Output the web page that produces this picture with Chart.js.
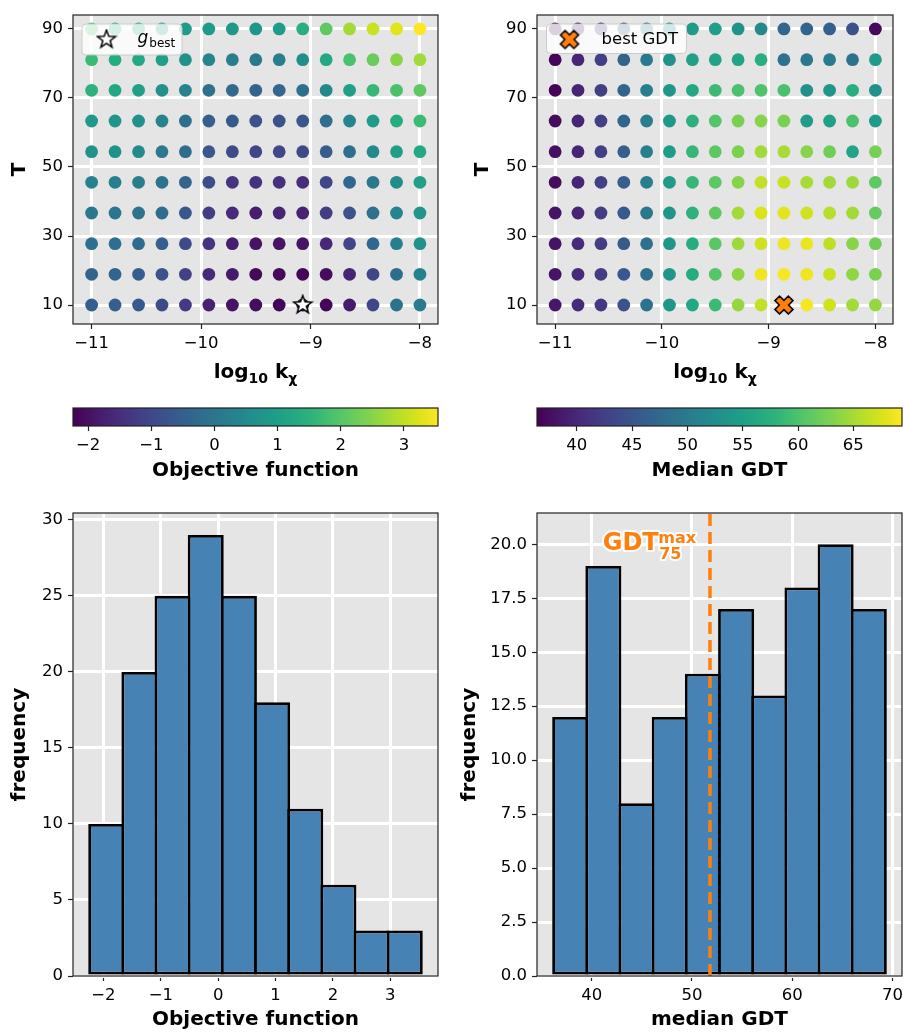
<!DOCTYPE html>
<html>
<head>
<meta charset="utf-8">
<script src="https://cdn.jsdelivr.net/npm/chart.js@4.4.1/dist/chart.umd.min.js"></script>
<style>
  body { margin: 0; background: #fff; }
  #fig { position: relative; width: 903px; height: 1032px; }
  #fig canvas { position: absolute; }
</style>
</head>
<body>
<div id="fig">
  <canvas id="scatterObj" style="left:0;top:0" width="450" height="395"></canvas>
  <canvas id="scatterGdt" style="left:455px;top:0" width="448" height="395"></canvas>
  <canvas id="cbarObj" style="left:0;top:395px" width="450" height="95"></canvas>
  <canvas id="cbarGdt" style="left:455px;top:395px" width="448" height="95"></canvas>
  <canvas id="histObj" style="left:0;top:490px" width="450" height="542"></canvas>
  <canvas id="histGdt" style="left:455px;top:490px" width="448" height="542"></canvas>
</div>
<script>
// grid of runs: log10 k_chi columns, T rows (rows listed top -> bottom)
const logK = [-11, -10.786, -10.571, -10.357, -10.143, -9.929, -9.714, -9.5, -9.286, -9.071, -8.857, -8.643, -8.429, -8.214, -8];
const temps = [90, 81.11, 72.22, 63.33, 54.44, 45.56, 36.67, 27.78, 18.89, 10];

const objective = [
  [1.92, 1.52, 1.23, 1.05, 0.94, 0.94, 0.82, 0.77, 0.94, 1.40, 2.10, 2.73, 3.08, 3.31, 3.54],
  [1.69, 1.34, 1.23, 1.00, 0.65, 0.36, 0.19, 0.07, 0.25, 0.59, 1.23, 1.86, 2.21, 2.50, 2.73],
  [1.46, 1.23, 1.05, 0.65, 0.36, -0.10, -0.27, -0.39, -0.33, -0.16, 0.48, 1.05, 1.63, 1.86, 2.10],
  [0.88, 0.77, 0.65, 0.36, -0.16, -0.51, -0.62, -0.80, -0.74, -0.68, -0.16, 0.36, 0.94, 1.34, 1.69],
  [0.65, 0.65, 0.48, 0.13, -0.22, -0.68, -0.91, -1.03, -1.03, -0.91, -0.56, -0.16, 0.48, 1.00, 1.23],
  [0.30, 0.30, 0.25, -0.04, -0.39, -0.85, -1.37, -1.43, -1.43, -1.49, -1.03, -0.33, 0.07, 0.53, 1.05],
  [0.07, 0.01, -0.04, -0.22, -0.68, -1.20, -1.55, -1.78, -1.66, -1.72, -1.20, -0.80, -0.10, 0.36, 0.77],
  [-0.16, -0.16, -0.27, -0.51, -0.97, -1.37, -1.78, -1.95, -1.95, -1.95, -1.60, -1.08, -0.33, 0.25, 0.65],
  [-0.39, -0.39, -0.56, -0.80, -1.14, -1.55, -1.84, -2.12, -2.12, -2.18, -2.07, -1.66, -1.03, -0.22, 0.30],
  [-0.51, -0.51, -0.62, -0.91, -1.26, -1.72, -1.95, -2.07, -2.18, -2.24, -2.18, -1.84, -1.03, -0.10, 0.13]
];

const medianGdt = [
  [38.1, 39.0, 41.4, 46.3, 49.6, 52.5, 54.6, 54.9, 52.9, 51.9, 47.3, 47.0, 46.3, 44.7, 37.1],
  [36.7, 39.7, 42.5, 47.0, 49.9, 52.9, 55.2, 55.5, 55.5, 57.2, 48.6, 49.6, 49.9, 48.6, 54.6],
  [36.7, 39.7, 42.5, 47.0, 50.6, 53.6, 56.2, 58.9, 59.8, 60.2, 59.8, 52.9, 53.6, 57.2, 52.9],
  [37.4, 39.7, 42.5, 47.0, 50.6, 53.9, 57.5, 60.5, 62.8, 63.5, 62.8, 54.6, 55.2, 59.8, 54.6],
  [37.7, 39.7, 42.5, 46.3, 50.6, 54.6, 58.5, 61.0, 62.8, 64.8, 65.1, 63.5, 62.1, 55.5, 62.5],
  [37.4, 39.7, 42.5, 46.0, 50.6, 54.6, 58.5, 61.0, 63.5, 66.4, 66.8, 65.1, 64.8, 64.5, 61.2],
  [38.1, 39.7, 42.3, 45.6, 49.6, 53.6, 57.9, 61.2, 64.8, 67.8, 68.1, 67.1, 65.8, 64.8, 61.5],
  [38.1, 40.4, 42.3, 45.6, 48.6, 53.6, 56.9, 60.8, 64.5, 67.1, 68.7, 68.4, 66.1, 63.5, 62.1],
  [38.1, 40.4, 42.3, 45.3, 48.3, 53.6, 56.9, 60.5, 63.8, 68.7, 69.1, 68.7, 66.8, 63.8, 62.8],
  [38.4, 40.4, 42.0, 44.7, 48.6, 53.6, 56.2, 58.9, 64.1, 66.4, 69.4, 69.1, 67.1, 64.8, 64.1]
];

const objRange = [-2.24, 3.54];
const gdtRange = [36.4, 69.4];
const bestObj = { x: -9.071, y: 10 };
const bestGdt = { x: -8.857, y: 10 };

// histograms
const objEdges = [-2.24, -1.662, -1.084, -0.506, 0.072, 0.65, 1.228, 1.806, 2.384, 2.962, 3.54];
const objCounts = [10, 20, 25, 29, 25, 18, 11, 6, 3, 3];
const gdtEdges = [36.2, 39.51, 42.82, 46.13, 49.44, 52.75, 56.06, 59.37, 62.68, 65.99, 69.3];
const gdtCounts = [12, 19, 8, 12, 14, 17, 13, 18, 20, 17];
const gdtMax75 = 51.8;

// tick labels
const logKTicks = [-11, -10, -9, -8];
const tempTicks = [10, 30, 50, 70, 90];
const objTicks = [-2, -1, 0, 1, 2, 3];
const gdtCbarTicks = [40, 45, 50, 55, 60, 65];
const objFreqTicks = [0, 5, 10, 15, 20, 25, 30];
const gdtHistTicks = [40, 50, 60, 70];
const gdtFreqTicks = [0, 2.5, 5, 7.5, 10, 12.5, 15, 17.5, 20];

const FONT = "'DejaVu Sans', sans-serif";
Chart.defaults.font.family = FONT;
Chart.defaults.color = '#000';

const VIRIDIS = ['#440154', '#471365', '#482475', '#463480', '#414487', '#3b528b', '#355f8d',
  '#2f6c8e', '#2a788e', '#25848e', '#21918c', '#1e9c89', '#22a884', '#2db27d', '#44bf70',
  '#5ec962', '#7ad151', '#9bd93c', '#bddf26', '#dce319', '#fde725'];

function hexRgb(h) {
  return [parseInt(h.slice(1, 3), 16), parseInt(h.slice(3, 5), 16), parseInt(h.slice(5, 7), 16)];
}
function viridis(t) {
  t = Math.min(1, Math.max(0, t));
  const f = t * (VIRIDIS.length - 1);
  const i = Math.min(Math.floor(f), VIRIDIS.length - 2);
  const u = f - i;
  const a = hexRgb(VIRIDIS[i]), b = hexRgb(VIRIDIS[i + 1]);
  return 'rgb(' + a.map((c, k) => Math.round(c + (b[k] - c) * u)).join(',') + ')';
}

const minus = v => (v < 0 ? '\u2212' + Math.abs(v) : String(v));

// marker images
function starMarker() {
  const c = document.createElement('canvas');
  c.width = c.height = 22;
  const g = c.getContext('2d');
  g.beginPath();
  for (let i = 0; i < 10; i++) {
    const r = i % 2 ? 3.9 : 9.5;
    const a = -Math.PI / 2 + i * Math.PI / 5;
    g.lineTo(11 + r * Math.cos(a), 11 + r * Math.sin(a));
  }
  g.closePath();
  g.fillStyle = '#fff';
  g.fill();
  g.lineWidth = 1.5;
  g.strokeStyle = '#000';
  g.stroke();
  return c;
}
function crossMarker() {
  const c = document.createElement('canvas');
  c.width = c.height = 22;
  const g = c.getContext('2d');
  g.translate(11, 11);
  g.rotate(Math.PI / 4);
  const r = 9.5, w = 3.3;
  const pts = [[-w, -r], [w, -r], [w, -w], [r, -w], [r, w], [w, w], [w, r], [-w, r], [-w, w], [-r, w], [-r, -w], [-w, -w]];
  g.beginPath();
  pts.forEach(p => g.lineTo(p[0], p[1]));
  g.closePath();
  g.fillStyle = '#ff7f0e';
  g.fill();
  g.lineWidth = 1.5;
  g.strokeStyle = '#000';
  g.stroke();
  return c;
}
const starImg = starMarker();
const crossImg = crossMarker();

function roundRect(ctx, x, y, w, h, r) {
  ctx.beginPath();
  ctx.moveTo(x + r, y);
  ctx.arcTo(x + w, y, x + w, y + h, r);
  ctx.arcTo(x + w, y + h, x, y + h, r);
  ctx.arcTo(x, y + h, x, y, r);
  ctx.arcTo(x, y, x + w, y, r);
  ctx.closePath();
}

function drawRich(ctx, parts, cx, y) {
  let w = 0;
  parts.forEach(p => { ctx.font = p.font; w += ctx.measureText(p.text).width; });
  let x = cx - w / 2;
  parts.forEach(p => {
    ctx.font = p.font;
    ctx.fillText(p.text, x, y + (p.dy || 0));
    x += ctx.measureText(p.text).width;
  });
}

// grey panel + dark frame, ggplot look
const panel = {
  id: 'panel',
  beforeDraw(chart) {
    const { ctx, chartArea: a } = chart;
    ctx.save();
    ctx.fillStyle = '#e5e5e5';
    ctx.fillRect(a.left, a.top, a.width, a.height);
    ctx.restore();
  },
  afterDraw(chart) {
    const { ctx, chartArea: a } = chart;
    ctx.save();
    ctx.strokeStyle = '#222';
    ctx.lineWidth = 1.2;
    ctx.strokeRect(a.left, a.top, a.width, a.height);
    ctx.restore();
  }
};

function axis(ticks, min, max, fmt, fit, extra) {
  return Object.assign({
    type: 'linear',
    min, max,
    offset: false,
    afterBuildTicks: s => { s.ticks = ticks.map(v => ({ value: v })); },
    afterFit: fit,
    ticks: { callback: fmt, color: '#000', font: { size: 16.5 }, padding: 5, maxRotation: 0, autoSkip: false },
    grid: { color: '#fff', lineWidth: 3, tickColor: '#222', tickLength: 5, tickWidth: 1.2, offset: false },
    border: { display: false }
  }, extra || {});
}
const fixW = w => s => { s.width = w; s.paddingTop = 0; s.paddingBottom = 0; };
const fixH = h => s => { s.height = h; s.paddingLeft = 0; s.paddingRight = 0; };

function scatterChart(id, grid, range, best, img, yAxisW, padRight, yTitlePad, legend) {
  const pts = [];
  temps.forEach((t, r) => logK.forEach((k, c) => pts.push({ x: k, y: t, v: grid[r][c] })));

  const labelPlugin = {
    id: 'xlabel',
    afterDraw(chart) {
      const { ctx, chartArea: a } = chart;
      ctx.save();
      ctx.fillStyle = '#000';
      ctx.textBaseline = 'alphabetic';
      drawRich(ctx, [
        { text: 'log', font: 'bold 20px ' + FONT },
        { text: '10', font: 'bold 14px ' + FONT, dy: 5 },
        { text: ' k', font: 'bold 20px ' + FONT },
        { text: '\u03c7', font: 'bold 14px ' + FONT, dy: 5 }
      ], (a.left + a.right) / 2, 378);
      ctx.restore();
    }
  };

  const legendPlugin = {
    id: 'boxLegend',
    afterDatasetsDraw(chart) {
      const ctx = chart.ctx;
      ctx.save();
      roundRect(ctx, legend.x, legend.y, legend.w, legend.h, 4);
      ctx.fillStyle = 'rgba(255,255,255,0.8)';
      ctx.fill();
      ctx.strokeStyle = 'rgba(200,200,200,0.9)';
      ctx.lineWidth = 1;
      ctx.stroke();
      ctx.drawImage(img, legend.mx - img.width / 2, legend.my - img.height / 2);
      ctx.fillStyle = '#000';
      ctx.textBaseline = 'alphabetic';
      let x = legend.tx;
      legend.parts.forEach(p => {
        ctx.font = p.font;
        ctx.fillText(p.text, x, p.y);
        x += ctx.measureText(p.text).width + 1;
      });
      ctx.restore();
    }
  };

  return new Chart(document.getElementById(id), {
    type: 'scatter',
    data: {
      datasets: [
        {
          data: pts,
          pointRadius: 6.4,
          pointBorderWidth: 0,
          pointBackgroundColor: c => viridis((c.raw.v - range[0]) / (range[1] - range[0])),
          order: 1
        },
        {
          data: [best],
          pointStyle: img,
          pointRadius: 9,
          order: 0
        }
      ]
    },
    options: {
      responsive: false,
      animation: false,
      devicePixelRatio: 1,
      events: [],
      layout: { padding: { top: 15, right: padRight, left: 0, bottom: 0 } },
      plugins: { legend: { display: false }, tooltip: { enabled: false } },
      scales: {
        x: axis(logKTicks, -11.17, -7.835, minus, fixH(71)),
        y: axis(tempTicks, 4.5, 94.05, v => String(v), fixW(yAxisW), {
          title: { display: true, text: 'T', font: { size: 20, weight: 'bold' }, padding: { top: yTitlePad, bottom: 0 } }
        })
      }
    },
    plugins: [panel, labelPlugin, legendPlugin]
  });
}
scatterChart('scatterObj', objective, objRange, bestObj, starImg, 73, 12, 8, {
  x: 82, y: 24, w: 100, h: 31, mx: 106.5, my: 39.5, tx: 137.5,
  parts: [
    { text: 'g', font: 'italic 17px ' + FONT, y: 43 },
    { text: 'best', font: '12px ' + FONT, y: 46.5 }
  ]
});
scatterChart('scatterGdt', medianGdt, gdtRange, bestGdt, crossImg, 82, 1, 16, {
  x: 91.5, y: 24, w: 140, h: 29.5, mx: 114.5, my: 39.5, tx: 146.5,
  parts: [{ text: 'best GDT', font: '16.5px ' + FONT, y: 44 }]
});

function colorbar(id, range, ticks, title, padLeft, padRight) {
  const bar = {
    id: 'gradient',
    beforeDraw(chart) {
      const { ctx, chartArea: a } = chart;
      const g = ctx.createLinearGradient(a.left, 0, a.right, 0);
      VIRIDIS.forEach((c, i) => g.addColorStop(i / (VIRIDIS.length - 1), c));
      ctx.save();
      ctx.fillStyle = g;
      ctx.fillRect(a.left, a.top, a.width, a.height);
      ctx.restore();
    },
    afterDraw(chart) {
      const { ctx, chartArea: a } = chart;
      ctx.save();
      ctx.strokeStyle = '#222';
      ctx.lineWidth = 1.2;
      ctx.strokeRect(a.left, a.top, a.width, a.height);
      ctx.restore();
    }
  };
  return new Chart(document.getElementById(id), {
    type: 'scatter',
    data: { datasets: [] },
    options: {
      responsive: false,
      animation: false,
      devicePixelRatio: 1,
      events: [],
      layout: { padding: { top: 13, left: padLeft, right: padRight, bottom: 0 } },
      plugins: { legend: { display: false }, tooltip: { enabled: false } },
      scales: {
        x: axis(ticks, range[0], range[1], minus, fixH(64), {
          grid: { drawOnChartArea: false, tickColor: '#222', tickLength: 5, tickWidth: 1.2 },
          title: { display: true, text: title, font: { size: 20, weight: 'bold' }, padding: { top: 0, bottom: 7 } }
        }),
        y: { display: false, min: 0, max: 1 }
      }
    },
    plugins: [bar]
  });
}
colorbar('cbarObj', objRange, objTicks, 'Objective function', 73, 12);
colorbar('cbarGdt', gdtRange, gdtCbarTicks, 'Median GDT', 82, 1);

function histChart(id, edges, counts, xr, yr, xTicks, yTicks, yFmt, xTitle, yAxisW, padRight, yTitlePad, extra) {
  const bars = counts.map((n, i) => ({ x: (edges[i] + edges[i + 1]) / 2, y: n }));
  const datasets = [{
    type: 'bar',
    data: bars,
    backgroundColor: '#4682b4',
    borderColor: '#000',
    borderWidth: 2.8,
    borderSkipped: false,
    // widen a little so neighbouring edges overlap into one line
    barPercentage: 1.085,
    categoryPercentage: 1,
    order: 1
  }];
  if (extra && extra.line) datasets.push(extra.line);
  return new Chart(document.getElementById(id), {
    type: 'bar',
    data: { datasets },
    options: {
      responsive: false,
      animation: false,
      devicePixelRatio: 1,
      events: [],
      layout: { padding: { top: 23, right: padRight, left: 0, bottom: 0 } },
      plugins: { legend: { display: false }, tooltip: { enabled: false } },
      scales: {
        x: axis(xTicks, xr[0], xr[1], minus, fixH(56), {
          title: { display: true, text: xTitle, font: { size: 20, weight: 'bold' }, padding: { top: 0, bottom: 0 } }
        }),
        y: axis(yTicks, yr[0], yr[1], yFmt, fixW(yAxisW), {
          title: { display: true, text: 'frequency', font: { size: 20, weight: 'bold' }, padding: { top: yTitlePad, bottom: 0 } }
        })
      }
    },
    plugins: [panel].concat(extra && extra.plugin ? [extra.plugin] : [])
  });
}

histChart('histObj', objEdges, objCounts, [-2.53, 3.83], [0, 30.45], objTicks, objFreqTicks,
  v => String(v), 'Objective function', 73, 12, 8);

const gdtLabel = {
  id: 'gdtLabel',
  afterDatasetsDraw(chart) {
    const { ctx, scales } = chart;
    const x0 = scales.x.getPixelForValue(41.1);
    const y0 = scales.y.getPixelForValue(19.74);
    const parts = [
      { text: 'GDT', font: 'bold 24px ' + FONT, dx: 0, dy: 0 },
      { text: 'max', font: 'bold 16px ' + FONT, dx: 55.5, dy: -6.5 },
      { text: '75', font: 'bold 16px ' + FONT, dx: 56.5, dy: 9 }
    ];
    ctx.save();
    ctx.textBaseline = 'alphabetic';
    ctx.lineJoin = 'round';
    parts.forEach(p => {
      ctx.font = p.font;
      ctx.strokeStyle = '#fff';
      ctx.lineWidth = 4;
      ctx.strokeText(p.text, x0 + p.dx, y0 + p.dy);
    });
    parts.forEach(p => {
      ctx.font = p.font;
      ctx.fillStyle = '#ff7f0e';
      ctx.fillText(p.text, x0 + p.dx, y0 + p.dy);
    });
    ctx.restore();
  }
};

histChart('histGdt', gdtEdges, gdtCounts, [34.545, 70.955], [0, 21.45], gdtHistTicks, gdtFreqTicks,
  v => v.toFixed(1), 'median GDT', 82, 1, 3, {
    line: {
      type: 'line',
      data: [{ x: gdtMax75, y: 0 }, { x: gdtMax75, y: 21.45 }],
      borderColor: '#ff7f0e',
      borderWidth: 3.5,
      borderDash: [12, 6],
      pointRadius: 0,
      order: 0
    },
    plugin: gdtLabel
  });
</script>
</body>
</html>
